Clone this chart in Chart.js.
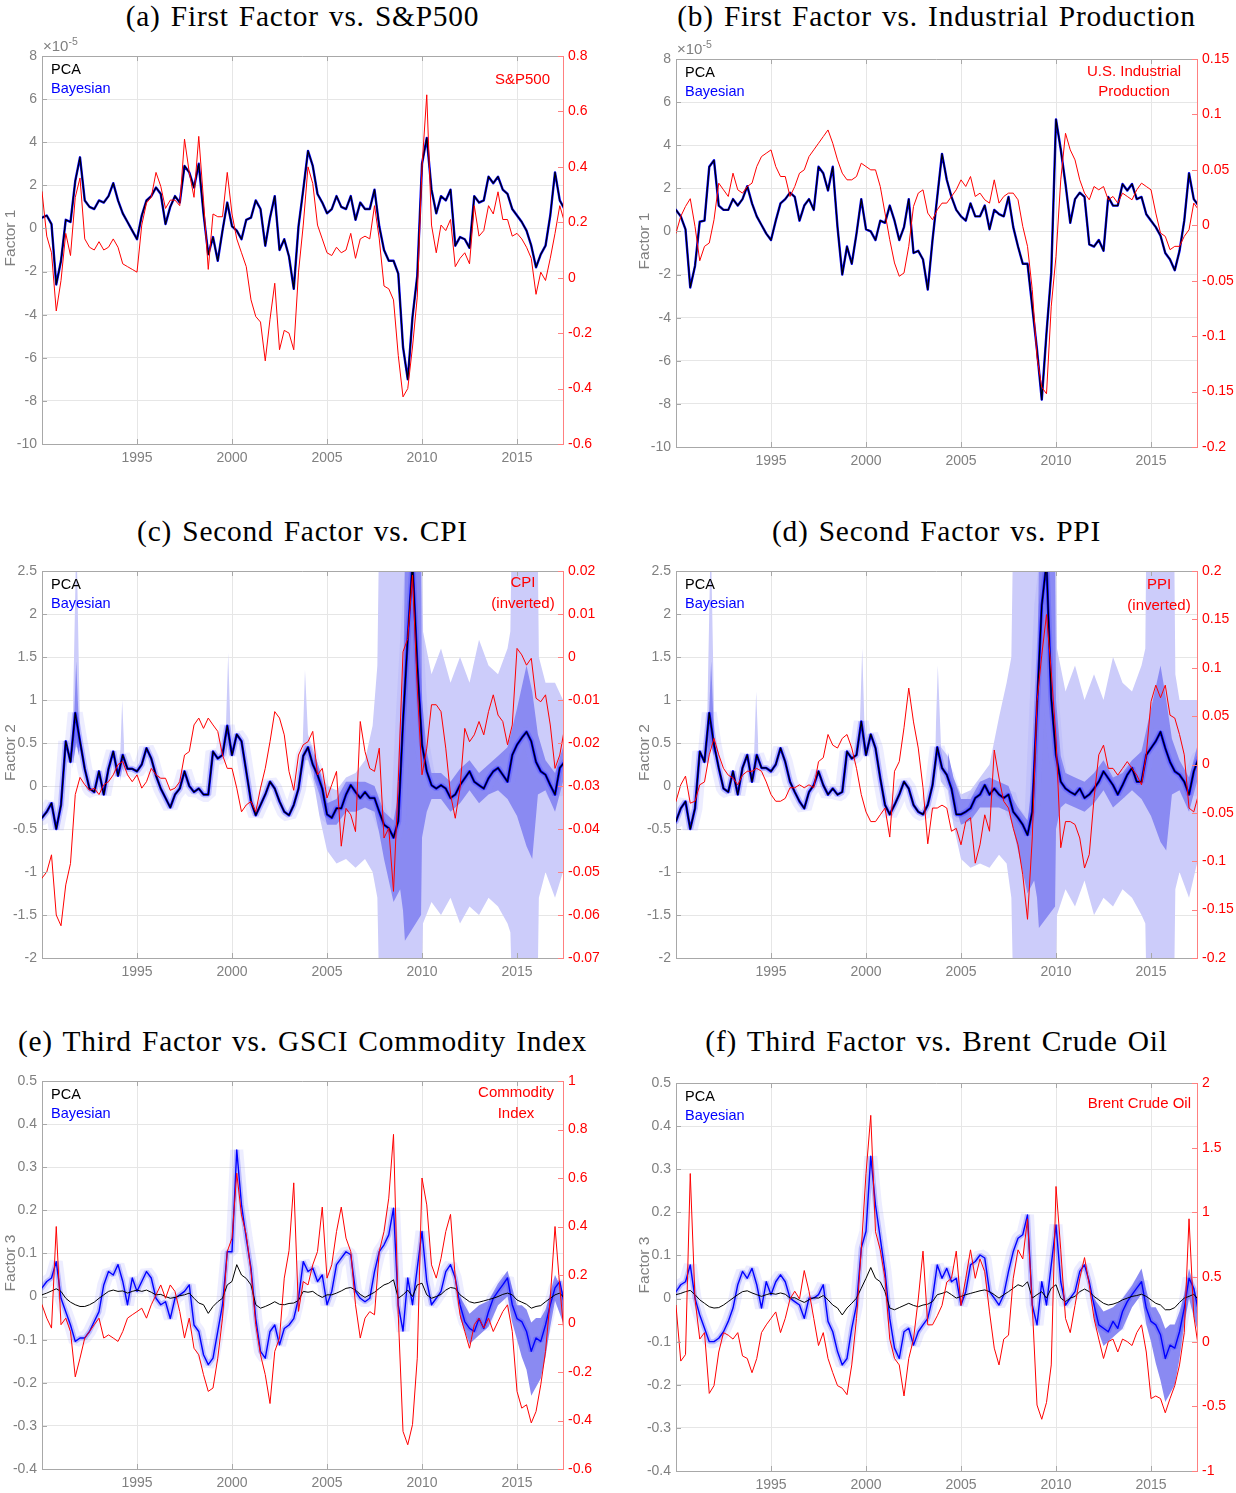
<!DOCTYPE html>
<html>
<head>
<meta charset="utf-8">
<script src="https://cdn.jsdelivr.net/npm/chart.js@4.4.0/dist/chart.umd.min.js"></script>
<style>
  html, body { margin: 0; padding: 0; background: #fff; }
  body { width: 1236px; height: 1493px; position: relative; overflow: hidden; }
  canvas { position: absolute; }
  .ttl { position: absolute; width: 700px; text-align: center; white-space: nowrap;
         font-family: "Liberation Serif", "DejaVu Serif", serif; font-size: 29.4px;
         letter-spacing: 0.8px; word-spacing: 2px; line-height: 32px; color: #000; }
</style>
</head>
<body>
<script>
// ---------- time grid (quarterly) ----------
const quarters = [
  1990,1990.25,1990.5,1990.75, 1991,1991.25,1991.5,1991.75, 1992,1992.25,1992.5,1992.75,
  1993,1993.25,1993.5,1993.75, 1994,1994.25,1994.5,1994.75, 1995,1995.25,1995.5,1995.75,
  1996,1996.25,1996.5,1996.75, 1997,1997.25,1997.5,1997.75, 1998,1998.25,1998.5,1998.75,
  1999,1999.25,1999.5,1999.75, 2000,2000.25,2000.5,2000.75, 2001,2001.25,2001.5,2001.75,
  2002,2002.25,2002.5,2002.75, 2003,2003.25,2003.5,2003.75, 2004,2004.25,2004.5,2004.75,
  2005,2005.25,2005.5,2005.75, 2006,2006.25,2006.5,2006.75, 2007,2007.25,2007.5,2007.75,
  2008,2008.25,2008.5,2008.75, 2009,2009.25,2009.5,2009.75, 2010,2010.25,2010.5,2010.75,
  2011,2011.25,2011.5,2011.75, 2012,2012.25,2012.5,2012.75, 2013,2013.25,2013.5,2013.75,
  2014,2014.25,2014.5,2014.75, 2015,2015.25,2015.5,2015.75, 2016,2016.25,2016.5,2016.75,
  2017,2017.25,2017.5
];

// ---------- tick labels ----------
const yearTicks  = [1995, 2000, 2005, 2010, 2015];
const f1Ticks    = [-10, -8, -6, -4, -2, 0, 2, 4, 6, 8];
const spxTicks   = [-0.6, -0.4, -0.2, 0, 0.2, 0.4, 0.6, 0.8];
const ipTicks    = [-0.2, -0.15, -0.1, -0.05, 0, 0.05, 0.1, 0.15];
const f2Ticks    = [-2, -1.5, -1, -0.5, 0, 0.5, 1, 1.5, 2, 2.5];
const cpiTicks   = [-0.07, -0.06, -0.05, -0.04, -0.03, -0.02, -0.01, 0, 0.01, 0.02];
const ppiTicks   = [-0.2, -0.15, -0.1, -0.05, 0, 0.05, 0.1, 0.15, 0.2];
const f3Ticks    = [-0.4, -0.3, -0.2, -0.1, 0, 0.1, 0.2, 0.3, 0.4, 0.5];
const gsciTicks  = [-0.6, -0.4, -0.2, 0, 0.2, 0.4, 0.6, 0.8, 1];
const brentTicks = [-1, -0.5, 0, 0.5, 1, 1.5, 2];

// ---------- (a) first factor (x1e-5) and S&P500 ----------
const pcaA = [
  0.5,0.6,0.2,-2.6, -1.5,0.4,0.3,2.2, 3.3,1.3,1.0,0.9, 1.3,1.2,1.5,2.1,
  1.3,0.7,0.3,-0.1, -0.5,0.6,1.3,1.5, 1.9,1.6,0.2,1.0, 1.5,1.2,2.9,2.6,
  1.9,3.0,0.7,-1.2, -0.4,-1.5,-0.1,1.2, 0.1,-0.1,-0.5,0.4, 0.5,1.3,0.9,-0.8,
  0.5,1.5,-1.0,-0.5, -1.3,-2.8,0.1,1.8, 3.6,2.9,1.6,1.2, 0.7,0.9,1.5,1.0,
  0.9,1.5,0.4,1.2, 0.9,0.9,1.8,0.1, -1.0,-1.5,-1.5,-2.1, -5.5,-7.0,-4.1,-2.2,
  3.0,4.2,1.8,0.7, 1.5,1.3,1.8,-0.8, -0.4,-0.5,-0.9,1.5, 1.2,1.3,2.4,2.1,
  2.4,1.8,1.6,0.9, 0.6,0.3,-0.1,-0.8, -1.8,-1.2,-0.8,0.6, 2.6,1.3,0.9
];
const spxA = [
  0.31,0.15,0.09,-0.12, -0.01,0.16,0.08,0.29, 0.36,0.14,0.11,0.10, 0.13,0.10,0.11,0.14,
  0.11,0.05,0.04,0.03, 0.02,0.19,0.27,0.29, 0.38,0.33,0.25,0.28, 0.28,0.26,0.50,0.38,
  0.29,0.51,0.28,0.03, 0.23,0.22,0.22,0.38, 0.23,0.14,0.09,0.04, -0.08,-0.14,-0.16,-0.30,
  -0.15,-0.02,-0.26,-0.19, -0.20,-0.26,0.02,0.19, 0.40,0.34,0.19,0.14, 0.09,0.08,0.11,0.09,
  0.10,0.16,0.07,0.14, 0.15,0.14,0.26,0.14, -0.03,-0.04,-0.08,-0.28, -0.43,-0.40,-0.25,-0.07,
  0.40,0.66,0.19,0.09, 0.19,0.17,0.21,0.04, 0.07,0.09,0.05,0.26, 0.15,0.17,0.26,0.23,
  0.31,0.21,0.21,0.15, 0.16,0.14,0.11,0.07, -0.06,0.02,-0.01,0.07, 0.16,0.26,0.20
];

// ---------- (b) first factor (x1e-5) and industrial production ----------
const pcaB = [
  1.0,0.7,0.1,-2.6, -1.6,0.45,0.5,3.0, 3.3,1.2,1.0,1.0, 1.5,1.2,1.5,2.1,
  1.3,0.7,0.3,-0.1, -0.4,0.5,1.3,1.5, 1.8,1.6,0.5,1.2, 1.5,1.0,3.0,2.7,
  1.9,3.0,0.2,-2.0, -0.7,-1.5,-0.1,1.5, 0.1,0.0,-0.4,0.5, 0.4,1.2,0.5,-0.4,
  0.2,1.5,-1.0,-0.9, -1.3,-2.7,-0.4,1.6, 3.6,2.4,1.6,1.0, 0.7,0.5,1.3,0.7,
  0.7,1.2,0.1,1.0, 0.8,0.7,1.6,0.2, -0.7,-1.5,-1.5,-3.5, -5.5,-7.8,-4.7,-1.9,
  5.2,3.8,2.2,0.4, 1.5,1.8,1.6,-0.6, -0.7,-0.4,-0.9,1.6, 1.2,1.2,2.2,1.9,
  2.2,1.5,1.6,0.8, 0.5,0.2,-0.2,-1.0, -1.3,-1.8,-0.9,0.5, 2.7,1.5,1.2
];
const ipB = [
  -0.007,0.008,0.017,0.024, -0.001,-0.032,-0.019,-0.016, 0.005,0.038,0.032,0.026, 0.047,0.032,0.029,0.035,
  0.038,0.053,0.062,0.065, 0.068,0.053,0.044,0.044, 0.026,0.035,0.047,0.050, 0.062,0.068,0.074,0.080,
  0.086,0.074,0.059,0.047, 0.041,0.041,0.044,0.056, 0.053,0.050,0.050,0.035, 0.011,-0.013,-0.034,-0.046,
  -0.043,-0.019,0.017,0.029, 0.032,0.011,0.005,0.014, 0.020,0.020,0.026,0.032, 0.041,0.035,0.044,0.026,
  0.029,0.023,0.020,0.041, 0.020,0.026,0.029,0.029, 0.023,-0.001,-0.019,-0.058, -0.119,-0.146,-0.152,-0.073,
  -0.028,0.041,0.083,0.068, 0.059,0.041,0.029,0.023, 0.035,0.032,0.035,0.023, 0.026,0.020,0.029,0.026,
  0.023,0.032,0.038,0.035, 0.032,0.011,-0.007,-0.010, -0.022,-0.019,-0.019,-0.010, -0.004,0.020,0.014
];

// ---------- (c) second factor and CPI (inverted) ----------
const pcaC = [
  -0.37,-0.30,-0.20,-0.50, -0.22,0.52,0.28,0.85, 0.52,0.20,-0.03,-0.07, 0.17,-0.10,0.20,0.40,
  0.12,0.36,0.20,0.20, 0.17,0.25,0.44,0.32, 0.12,-0.03,-0.14,-0.25, -0.10,-0.03,0.17,0.00,
  -0.07,-0.03,-0.10,-0.10, 0.40,0.32,0.36,0.70, 0.36,0.60,0.52,0.17, -0.18,-0.34,-0.22,-0.10,
  0.05,-0.03,-0.18,-0.30, -0.34,-0.22,-0.03,0.35, 0.45,0.25,0.13,-0.03, -0.33,-0.37,-0.26,-0.26,
  -0.10,0.01,-0.07,-0.14, -0.07,-0.14,-0.14,-0.30, -0.45,-0.49,-0.60,-0.41, 0.75,1.72,2.60,1.41,
  0.48,0.17,0.01,-0.03, 0.01,-0.03,-0.14,-0.10, 0.01,0.09,0.17,0.05, 0.01,-0.03,0.09,0.17,
  0.21,0.13,0.05,0.36, 0.48,0.56,0.63,0.52, 0.28,0.17,0.13,0.01, -0.10,0.21,0.28
];
const cpiC = [
  -0.0514,-0.0500,-0.0460,-0.0600, -0.0625,-0.0530,-0.0480,-0.0320, -0.0280,-0.0297,-0.0310,-0.0305, -0.0320,-0.0297,-0.0290,-0.0274,
  -0.0250,-0.0243,-0.0274,-0.0290, -0.0274,-0.0305,-0.0290,-0.0259, -0.0274,-0.0282,-0.0282,-0.0310, -0.0305,-0.0290,-0.0228,-0.0220,
  -0.0158,-0.0142,-0.0166,-0.0142, -0.0158,-0.0173,-0.0228,-0.0259, -0.0259,-0.0305,-0.0360,-0.0344, -0.0336,-0.0360,-0.0305,-0.0259,
  -0.0197,-0.0127,-0.0142,-0.0181, -0.0266,-0.0310,-0.0228,-0.0204, -0.0197,-0.0173,-0.0274,-0.0259, -0.0328,-0.0297,-0.0266,-0.0440,
  -0.0352,-0.0367,-0.0406,-0.0150, -0.0220,-0.0259,-0.0266,-0.0212, -0.0421,-0.0398,-0.0545,-0.0290, 0.0012,0.0043,0.0190,-0.0073,
  -0.0274,-0.0212,-0.0111,-0.0111, -0.0127,-0.0212,-0.0320,-0.0375, -0.0305,-0.0166,-0.0197,-0.0181, -0.0150,-0.0181,-0.0127,-0.0088,
  -0.0135,-0.0150,-0.0204,-0.0158, 0.0020,0.0005,-0.0019,-0.0003, -0.0096,-0.0104,-0.0088,-0.0158, -0.0259,-0.0228,-0.0166
];
const outerCT = [1991.6,1991.78,1991.84,1992.0,1992.01, 1994.1,1994.22,1994.34,1994.35, 1999.66,1999.8,1999.94,1999.95,
  2003.7,2003.84,2004.0,2004.3,2004.6,2005.0,2005.5,2006.0,2006.5,2007.0,2007.4,2007.65,2007.72,2010.0,2010.05,2010.5,
  2011.0,2011.5,2012.0,2012.5,2013.0,2013.5,2014.0,2014.5,2014.65,2014.7,2016.1,2016.15,2016.5,2017.0,2017.42];
const outerCHi = [0.5,2.6,2.6,0.65,null, 0.25,1.0,0.35,null, 0.55,1.55,0.5,null,
  0.35,1.35,0.6,0.40,0.20,0.00,-0.05,0.10,0.15,0.30,0.70,1.4,2.6,2.6,1.8,1.3,
  1.6,1.2,1.5,1.2,1.7,1.4,1.3,1.6,1.8,2.6,2.6,1.5,1.2,1.2,1.0];
const outerCLo = [0.2,0.45,0.45,0.4,null, 0.05,0.2,0.15,null, 0.3,0.5,0.3,null,
  0.15,0.3,0.3,0.05,-0.35,-0.75,-0.90,-0.85,-0.95,-0.85,-1.0,-1.3,-2.1,-2.1,-1.6,-1.35,
  -1.5,-1.3,-1.6,-1.4,-1.5,-1.3,-1.4,-1.6,-1.7,-2.1,-2.1,-1.3,-1.0,-1.3,-1.0];
const innerCT = [1991.65,1991.8,1991.95,1991.96,
  2004.3,2004.6,2005.0,2005.5,2006.0,2006.5,2007.0,2007.5,2007.75,2008.0,2008.5,2008.85,2009.0,2009.1,2009.95,
  2010.0,2010.25,2010.5,2011.0,2011.5,2012.0,2012.5,2013.0,2013.5,2014.0,2014.5,2015.0,2015.5,2015.8,2016.1,
  2016.5,2017.0,2017.42];
const innerCHi = [0.55,1.45,0.65,null,
  0.40,0.20,-0.20,-0.15,0.05,0.05,0.05,0.00,-0.15,-0.30,-0.40,0.00,1.0,2.6,2.6,
  1.0,0.40,0.15,0.15,0.05,0.20,0.30,0.15,0.25,0.35,0.45,0.90,1.40,1.10,0.60,
  0.30,0.15,0.45];
const innerCLo = [0.3,0.5,0.35,null,
  0.10,-0.10,-0.45,-0.45,-0.30,-0.30,-0.25,-0.30,-0.55,-0.85,-1.35,-1.2,-1.45,-1.8,-1.5,
  -0.6,-0.30,-0.15,-0.15,-0.30,-0.20,-0.05,-0.20,-0.10,-0.05,-0.15,-0.35,-0.70,-0.85,-0.10,
  -0.05,-0.30,0.05];

// ---------- (d) second factor and PPI (inverted) ----------
const pcaD = [
  -0.41,-0.26,-0.18,-0.50, -0.26,0.40,0.28,0.85, 0.48,0.21,-0.03,-0.07, 0.17,-0.10,0.21,0.36,
  0.05,0.36,0.21,0.21, 0.17,0.25,0.44,0.28, 0.05,-0.07,-0.18,-0.26, -0.07,0.01,0.17,0.01,
  -0.10,-0.03,-0.10,-0.07, 0.40,0.32,0.36,0.75, 0.36,0.60,0.44,0.09, -0.22,-0.33,-0.22,-0.10,
  0.05,-0.03,-0.22,-0.30, -0.33,-0.22,0.01,0.45, 0.21,0.13,-0.03,-0.33, -0.33,-0.30,-0.26,-0.14,
  -0.10,0.01,-0.10,-0.03, -0.10,-0.14,-0.10,-0.30, -0.37,-0.45,-0.57,-0.30, 0.94,2.10,2.60,1.02,
  0.36,0.05,-0.03,-0.07, -0.10,-0.03,-0.14,-0.10, -0.03,0.05,0.17,0.09, 0.01,-0.10,0.01,0.13,
  0.21,0.05,0.05,0.36, 0.44,0.52,0.63,0.44, 0.28,0.17,0.13,0.05, -0.10,0.17,0.32
];
const ppiD = [
  -0.038,-0.021,-0.012,-0.040, -0.038,-0.021,-0.018,0.010, 0.027,0.010,-0.004,-0.011, -0.014,-0.021,-0.011,-0.007,
  -0.007,-0.004,-0.007,-0.018, -0.031,-0.038,-0.038,-0.035, -0.024,-0.024,-0.021,-0.024, -0.021,-0.024,0.003,0.007,
  0.031,0.020,0.017,0.027, 0.031,0.017,-0.004,-0.031, -0.049,-0.059,-0.059,-0.052, -0.045,-0.075,-0.007,0.003,
  0.038,0.079,0.044,0.017, -0.024,-0.082,-0.045,-0.045, -0.042,-0.045,-0.069,-0.066, -0.083,-0.059,-0.055,-0.102,
  -0.083,-0.052,-0.069,0.015, -0.014,-0.038,-0.045,-0.066, -0.083,-0.114,-0.160,-0.076, 0.065,0.113,0.155,0.096,
  0.027,-0.086,-0.059,-0.059, -0.062,-0.076,-0.107,-0.093, -0.035,0.010,0.020,-0.004, -0.004,-0.011,-0.004,0.003,
  -0.004,-0.011,-0.021,0.010, 0.065,0.082,0.069,0.082, 0.051,0.048,0.031,0.010, -0.045,-0.049,-0.031
];
const outerDT = [1991.62,1991.8,1991.86,1992.02,1992.03, 1994.1,1994.22,1994.34,1994.35, 1999.66,1999.8,1999.94,1999.95,
  2003.65,2003.78,2003.95,2004.3,2004.6,2005.0,2005.5,2006.0,2006.5,2007.0,2007.4,2007.65,2007.72,2010.0,2010.05,2010.5,
  2011.0,2011.5,2012.0,2012.5,2013.0,2013.5,2014.0,2014.5,2014.7,2014.74,2016.23,2016.28,2016.5,2017.0,2017.42];
const outerDHi = [0.5,2.6,2.6,0.65,null, 0.3,1.1,0.4,null, 0.6,1.6,0.55,null,
  0.5,1.4,0.45,0.35,0.10,-0.10,-0.05,0.10,0.25,0.80,1.20,1.50,2.6,2.6,1.6,1.1,
  1.4,1.0,1.3,1.0,1.5,1.2,1.1,1.4,1.6,2.6,2.6,1.3,1.0,1.0,1.0];
const outerDLo = [0.2,0.45,0.45,0.35,null, 0.05,0.2,0.15,null, 0.3,0.55,0.3,null,
  0.2,0.3,0.05,-0.05,-0.45,-0.85,-0.95,-0.90,-0.95,-0.80,-0.90,-1.30,-2.1,-2.1,-1.5,-1.2,
  -1.4,-1.1,-1.5,-1.3,-1.4,-1.2,-1.3,-1.5,-1.6,-2.1,-2.1,-1.2,-1.0,-1.3,-0.9];
const innerDT = [1991.7,1991.85,1992.0,1992.01,
  2004.3,2004.6,2005.0,2005.5,2006.0,2006.5,2007.0,2007.5,2007.75,2008.0,2008.5,2008.85,2009.0,2009.1,2009.95,
  2010.0,2010.25,2010.5,2011.0,2011.5,2012.0,2012.5,2013.0,2013.5,2014.0,2014.5,2015.0,2015.5,2015.8,2016.1,
  2016.5,2017.0,2017.42];
const innerDHi = [0.6,1.45,0.6,null,
  0.40,0.10,-0.15,-0.15,0.05,0.10,0.05,0.00,-0.15,-0.25,-0.40,0.20,1.0,2.6,2.6,
  1.0,0.35,0.15,0.10,0.05,0.15,0.30,0.10,0.15,0.30,0.40,0.90,1.40,1.00,0.55,
  0.30,0.10,0.45];
const innerDLo = [0.3,0.5,0.35,null,
  0.05,-0.15,-0.45,-0.40,-0.25,-0.25,-0.25,-0.30,-0.50,-0.75,-1.25,-1.10,-1.30,-1.65,-1.40,
  -0.5,-0.25,-0.20,-0.25,-0.30,-0.20,-0.05,-0.25,-0.15,-0.05,-0.15,-0.35,-0.65,-0.75,-0.10,
  -0.05,-0.30,0.05];

// ---------- (e) third factor and GSCI commodity index ----------
const pcaE = [
  0.004,0.008,0.013,0.018, 0.012,-0.004,-0.013,-0.019, -0.023,-0.023,-0.019,-0.013, -0.004,0.004,0.012,0.015,
  0.012,0.013,0.008,0.012, 0.015,0.012,0.015,0.010, 0.004,0.005,0.000,-0.004, -0.002,0.002,0.004,0.008,
  -0.004,-0.015,-0.019,-0.039, -0.023,-0.012,-0.004,0.027, 0.035,0.074,0.050,0.042, 0.027,-0.019,-0.027,-0.023,
  -0.018,-0.012,-0.018,-0.019, -0.016,-0.015,-0.009,0.012, 0.010,0.012,0.004,-0.002, 0.004,0.004,0.008,0.013,
  0.019,0.021,0.015,0.005, -0.002,0.004,0.010,0.019, 0.027,0.031,0.039,-0.004, 0.004,0.015,0.000,0.027,
  0.031,0.004,-0.004,0.000, 0.005,0.015,0.021,0.019, 0.004,-0.004,-0.012,-0.015, -0.013,-0.010,-0.007,-0.004,
  0.000,0.005,0.008,0.004, -0.008,-0.013,-0.018,-0.027, -0.023,-0.021,-0.012,-0.004, 0.004,0.008,-0.004
];
const bayesE = [
  0.020,0.035,0.043,0.081, -0.004,-0.035,-0.066,-0.104, -0.096,-0.096,-0.081,-0.058, -0.035,0.027,0.058,0.050,
  0.074,0.035,-0.019,0.043, 0.012,0.035,0.058,0.043, -0.004,-0.019,-0.012,-0.051, -0.004,0.004,0.012,0.027,
  -0.066,-0.081,-0.135,-0.158, -0.143,-0.081,-0.019,0.104, 0.104,0.340,0.213,0.135, 0.066,-0.051,-0.127,-0.143,
  -0.081,-0.066,-0.112,-0.074, -0.066,-0.051,-0.004,0.081, 0.058,0.066,0.035,0.050, -0.019,0.012,0.074,0.089,
  0.104,0.097,0.012,-0.004, -0.012,-0.004,0.058,0.104, 0.120,0.143,0.205,-0.020, -0.080,0.043,-0.019,0.066,
  0.151,0.035,-0.019,-0.004, 0.012,0.058,0.074,0.043, -0.019,-0.058,-0.074,-0.081, -0.051,-0.074,-0.035,-0.004,
  0.012,0.027,0.043,-0.019, -0.051,-0.058,-0.081,-0.127, -0.096,-0.104,-0.066,-0.019, 0.020,0.035,-0.019
];
const gsciE = [
  0.077,0.022,-0.019,0.400, -0.005,0.022,-0.033,-0.220, -0.143,-0.060,-0.033,-0.005, 0.022,-0.060,-0.047,-0.060,
  -0.074,-0.033,0.022,0.036, 0.049,0.063,0.022,0.077, 0.118,0.159,0.104,0.159, 0.132,0.049,-0.060,0.022,
  -0.102,-0.129,-0.211,-0.280, -0.266,-0.143,0.022,0.297, 0.352,0.620,0.448,0.366, 0.214,-0.005,-0.129,-0.211,
  -0.330,-0.115,-0.060,0.187, 0.300,0.580,0.050,0.173, 0.159,0.242,0.297,0.480, 0.187,0.242,0.379,0.480,
  0.352,0.297,0.077,-0.060, 0.022,0.049,0.036,0.297, 0.379,0.517,0.780,0.036, -0.445,-0.500,-0.417,-0.143,
  0.600,0.489,0.242,0.187, 0.269,0.379,0.450,0.187, 0.036,-0.033,-0.102,-0.005, 0.022,-0.019,0.022,-0.033,
  0.008,0.049,0.077,-0.033, -0.280,-0.349,-0.335,-0.410, -0.363,-0.253,-0.115,0.104, 0.400,0.150,-0.060
];
const bandET  = [2012.0,2012.5,2013.0,2013.5,2014.0,2014.5,2014.75,2015.0,2015.25,2015.5,2015.75,2016.0,2016.25,2016.5,2016.75,2017.0,2017.42];
const bandEHi = [0.00,-0.04,-0.02,-0.01,0.03,0.06,0.02,-0.02,-0.02,-0.03,-0.06,-0.05,-0.05,-0.03,0.01,0.05,0.01];
const bandELo = [-0.05,-0.11,-0.09,-0.07,-0.02,0.00,-0.06,-0.10,-0.14,-0.17,-0.23,-0.21,-0.19,-0.14,-0.07,-0.01,-0.06];

// ---------- (f) third factor and Brent crude oil ----------
const pcaF = [
  0.009,0.012,0.016,0.019, 0.009,-0.003,-0.011,-0.019, -0.022,-0.021,-0.015,-0.007, 0.001,0.009,0.016,0.018,
  0.013,0.009,0.005,0.009, 0.012,0.010,0.013,0.010, 0.001,0.002,-0.004,-0.009, -0.003,0.002,0.001,0.007,
  -0.003,-0.015,-0.022,-0.038, -0.022,-0.011,0.001,0.024, 0.047,0.072,0.047,0.039, 0.016,-0.022,-0.026,-0.021,
  -0.016,-0.011,-0.016,-0.019, -0.015,-0.013,-0.007,0.009, 0.012,0.016,0.009,0.001, 0.005,0.009,0.012,0.015,
  0.018,0.020,0.016,0.009, 0.001,0.009,0.016,0.024, 0.032,0.028,0.039,0.001, 0.009,0.016,0.001,0.024,
  0.032,0.001,-0.007,0.001, 0.005,0.016,0.022,0.016, 0.005,-0.003,-0.011,-0.015, -0.013,-0.009,-0.003,0.001,
  0.005,0.007,0.010,0.005, -0.003,-0.011,-0.015,-0.026, -0.026,-0.021,-0.009,0.001, 0.005,0.010,-0.003
];
const bayesF = [
  0.016,0.032,0.039,0.078, 0.001,-0.038,-0.069,-0.100, -0.100,-0.092,-0.077,-0.053, -0.022,0.032,0.063,0.047,
  0.070,0.032,-0.022,0.039, 0.009,0.039,0.055,0.039, 0.001,-0.007,-0.015,-0.046, 0.001,0.001,0.009,0.032,
  -0.053,-0.077,-0.123,-0.154, -0.139,-0.069,-0.015,0.117, 0.156,0.330,0.217,0.140, 0.063,-0.046,-0.115,-0.139,
  -0.077,-0.069,-0.108,-0.077, -0.061,-0.046,0.001,0.078, 0.047,0.070,0.039,0.047, -0.015,0.016,0.078,0.086,
  0.101,0.094,0.016,0.001, -0.015,0.009,0.063,0.109, 0.140,0.148,0.194,-0.015, -0.061,0.039,-0.015,0.078,
  0.171,0.039,-0.015,0.001, 0.016,0.063,0.078,0.039, -0.015,-0.061,-0.069,-0.077, -0.053,-0.069,-0.030,-0.007,
  0.009,0.024,0.039,-0.022, -0.053,-0.061,-0.084,-0.139, -0.108,-0.115,-0.077,-0.022, 0.047,0.024,-0.030
];
const brentF = [
  0.28,-0.15,-0.10,1.30, 0.33,0.02,0.07,-0.40, -0.34,-0.08,0.07,0.05, 0.02,0.07,-0.11,-0.13,
  -0.24,-0.13,0.07,0.13, 0.18,0.23,0.07,0.18, 0.33,0.39,0.33,0.55, 0.39,0.18,-0.03,0.07,
  -0.13,-0.24,-0.34,-0.36, -0.41,-0.18,0.18,0.71, 1.30,1.75,0.85,0.71, 0.49,0.02,-0.13,-0.18,
  -0.42,-0.13,0.02,0.33, 0.70,0.13,0.13,0.20, 0.28,0.46,0.49,0.70, 0.28,0.49,0.71,0.49,
  0.64,0.54,0.23,-0.05, -0.18,0.02,0.05,0.49, 0.71,0.64,0.95,0.28, -0.49,-0.60,-0.47,-0.18,
  1.20,0.71,0.18,0.07, 0.28,0.49,0.65,0.44, 0.18,0.02,-0.13,0.00, 0.02,-0.08,0.02,0.00,
  -0.03,0.07,0.13,-0.08, -0.44,-0.42,-0.44,-0.55, -0.44,-0.34,-0.18,0.07, 0.95,0.20,-0.05
];
const bandFT  = [2012.0,2012.5,2013.0,2013.5,2014.0,2014.5,2014.75,2015.0,2015.25,2015.5,2015.75,2016.0,2016.25,2016.5,2016.75,2017.0,2017.42];
const bandFHi = [0.00,-0.03,-0.02,0.00,0.03,0.07,0.02,-0.02,-0.02,-0.04,-0.07,-0.06,-0.06,-0.03,0.01,0.07,0.00];
const bandFLo = [-0.05,-0.11,-0.09,-0.07,-0.02,0.01,-0.06,-0.10,-0.15,-0.19,-0.24,-0.22,-0.20,-0.14,-0.06,0.00,-0.07];

// ---------- styling ----------
const FONT = '"Liberation Sans", Arial, sans-serif';
const GRID = '#e6e6e6';
const AXIS = '#a8a8a8';
const TICKTXT = '#808080';
const RED = '#ff0000';
const REDAX = '#ff8080';
const BLUE = '#0000ff';
const OUTER = 'rgb(204,204,250)';
const INNER = 'rgb(138,138,242)';
const HAZE_MID = 'rgba(70,70,255,0.30)';
const HAZE_WIDE = 'rgba(140,140,255,0.16)';
const X_MIN = 1990, X_MAX = 2017.42;

const fmt = v => String(Math.round(v * 1e6) / 1e6);
const pts = (xs, ys) => xs.map((x, i) => ({ x: x, y: ys[i] }));

function line(xs, ys, color, width, order, axis, join) {
  return { data: pts(xs, ys), borderColor: color, borderWidth: width, order: order,
           yAxisID: axis || 'y', fill: false, pointRadius: 0, clip: 0, spanGaps: false,
           borderJoinStyle: join || 'round' };
}
function band(xs, hi, lo, color, order) {
  return [
    { data: pts(xs, hi), borderColor: 'rgba(0,0,0,0)', borderWidth: 0, backgroundColor: color,
      fill: '+1', order: order, yAxisID: 'y', pointRadius: 0, clip: 0, spanGaps: false },
    { data: pts(xs, lo), borderColor: 'rgba(0,0,0,0)', borderWidth: 0, fill: false,
      order: order, yAxisID: 'y', pointRadius: 0, clip: 0, spanGaps: false }
  ];
}

// labels, ticks and box drawn over each panel
const decor = {
  id: 'decor',
  afterDraw(chart, args, o) {
    const { ctx, chartArea: a, scales } = chart;
    ctx.save();
    ctx.lineWidth = 1;
    ctx.strokeStyle = AXIS;
    ctx.beginPath();
    ctx.moveTo(a.left, Math.round(a.top) + 0.5); ctx.lineTo(a.right, Math.round(a.top) + 0.5);
    yearTicks.forEach(v => {
      const px = Math.round(scales.x.getPixelForValue(v)) + 0.5;
      ctx.moveTo(px, a.bottom); ctx.lineTo(px, a.bottom - 5);
      ctx.moveTo(px, a.top); ctx.lineTo(px, a.top + 5);
    });
    o.yTicks.forEach(v => {
      const py = Math.round(scales.y.getPixelForValue(v)) + 0.5;
      ctx.moveTo(a.left, py); ctx.lineTo(a.left + 5, py);
    });
    ctx.stroke();
    ctx.strokeStyle = REDAX;
    ctx.beginPath();
    o.y2Ticks.forEach(v => {
      const py = Math.round(scales.y2.getPixelForValue(v)) + 0.5;
      ctx.moveTo(a.right, py); ctx.lineTo(a.right - 5, py);
    });
    ctx.stroke();

    ctx.textBaseline = 'middle';
    ctx.textAlign = 'left';
    ctx.font = '14.5px ' + FONT;
    ctx.fillStyle = '#000';
    ctx.fillText('PCA', a.left + 9, a.top + 14);
    ctx.fillStyle = BLUE;
    ctx.fillText('Bayesian', a.left + 9, a.top + 33);

    ctx.fillStyle = RED;
    ctx.font = '15px ' + FONT;
    ctx.textAlign = o.red.align;
    o.red.lines.forEach((s, i) => ctx.fillText(s, a.right + o.red.dx, a.top + o.red.dy[i]));

    ctx.save();
    ctx.translate(a.left - 31, (a.top + a.bottom) / 2 - 12);
    ctx.rotate(-Math.PI / 2);
    ctx.textAlign = 'center';
    ctx.fillStyle = TICKTXT;
    ctx.font = '15.5px ' + FONT;
    ctx.fillText(o.yTitle, 0, 0);
    ctx.restore();

    if (o.exp) {
      ctx.fillStyle = TICKTXT;
      ctx.textAlign = 'left';
      ctx.font = '15px ' + FONT;
      ctx.fillText('\u00d710', a.left + 1, a.top - 9);
      const w = ctx.measureText('\u00d710').width;
      ctx.font = '10.5px ' + FONT;
      ctx.fillText('-5', a.left + 1 + w, a.top - 14);
    }
    ctx.restore();
  }
};

function makePanel(p) {
  const left = p.col === 0 ? 0 : 618;
  const areaL = p.col === 0 ? 42 : 676;
  const areaR = p.col === 0 ? 563 : 1197;
  const cTop = p.top - 22;
  const cBottom = Math.min(p.bottom + 30, 1493);
  const W = 618, H = cBottom - cTop;
  const yW = areaL - left, y2W = left + W - areaR, xH = cBottom - p.bottom;

  const t = document.createElement('div');
  t.className = 'ttl';
  t.textContent = p.title;
  t.style.left = ((areaL + areaR) / 2 - 350) + 'px';
  t.style.top = (p.titleY - 16) + 'px';
  document.body.appendChild(t);

  const cv = document.createElement('canvas');
  cv.width = W; cv.height = H;
  cv.style.left = left + 'px'; cv.style.top = cTop + 'px';
  cv.style.width = W + 'px'; cv.style.height = H + 'px';
  document.body.appendChild(cv);

  const tickFont = { family: FONT, size: 14 };
  new Chart(cv.getContext('2d'), {
    type: 'line',
    data: { datasets: p.datasets },
    options: {
      responsive: false, animation: false, devicePixelRatio: 1, events: [],
      layout: { padding: { top: p.top - cTop, left: 0, right: 0, bottom: 0 } },
      elements: { point: { radius: 0 }, line: { tension: 0, borderCapStyle: 'round' } },
      plugins: {
        legend: { display: false }, tooltip: { enabled: false },
        decor: { yTicks: p.yTicks, y2Ticks: p.y2Ticks, red: p.red, yTitle: p.yTitle, exp: p.exp }
      },
      scales: {
        x: {
          type: 'linear', min: X_MIN, max: X_MAX,
          afterBuildTicks: s => { s.ticks = yearTicks.map(v => ({ value: v })); },
          afterFit: s => { s.height = xH; },
          ticks: { callback: v => String(v), color: TICKTXT, font: tickFont, padding: 6, maxRotation: 0, autoSkip: false },
          grid: { color: GRID, drawTicks: false },
          border: { color: AXIS }
        },
        y: {
          type: 'linear', position: 'left', min: p.yTicks[0], max: p.yTicks[p.yTicks.length - 1],
          afterBuildTicks: s => { s.ticks = p.yTicks.map(v => ({ value: v })); },
          afterFit: s => { s.width = yW; },
          ticks: { callback: fmt, color: TICKTXT, font: tickFont, padding: 5, autoSkip: false },
          grid: { color: GRID, drawTicks: false },
          border: { color: AXIS }
        },
        y2: {
          type: 'linear', position: 'right', min: p.y2Ticks[0], max: p.y2Ticks[p.y2Ticks.length - 1],
          afterBuildTicks: s => { s.ticks = p.y2Ticks.map(v => ({ value: v })); },
          afterFit: s => { s.width = y2W; },
          ticks: { callback: fmt, color: RED, font: tickFont, padding: 5, autoSkip: false },
          grid: { display: false, drawTicks: false },
          border: { color: REDAX }
        }
      }
    },
    plugins: [decor]
  });
}

Chart.defaults.font.family = FONT;

makePanel({
  col: 0, top: 56, bottom: 444, titleY: 16, title: '(a) First Factor vs. S&P500',
  yTitle: 'Factor 1', exp: true, yTicks: f1Ticks, y2Ticks: spxTicks,
  red: { lines: ['S&P500'], align: 'right', dx: -13, dy: [24] },
  datasets: [
    line(quarters, spxA, RED, 1, 0, 'y2'),
    line(quarters, pcaA, '#000', 1.2, 1),
    line(quarters, pcaA, BLUE, 2.4, 2)
  ]
});
makePanel({
  col: 1, top: 59, bottom: 447, titleY: 16, title: '(b) First Factor vs. Industrial Production',
  yTitle: 'Factor 1', exp: true, yTicks: f1Ticks, y2Ticks: ipTicks,
  red: { lines: ['U.S. Industrial', 'Production'], align: 'center', dx: -63, dy: [13, 33] },
  datasets: [
    line(quarters, ipB, RED, 1, 0, 'y2'),
    line(quarters, pcaB, '#000', 1.2, 1),
    line(quarters, pcaB, BLUE, 2.4, 2)
  ]
});
makePanel({
  col: 0, top: 571, bottom: 958, titleY: 531, title: '(c) Second Factor vs. CPI',
  yTitle: 'Factor 2', exp: false, yTicks: f2Ticks, y2Ticks: cpiTicks,
  red: { lines: ['CPI', '(inverted)'], align: 'center', dx: -40, dy: [12, 33] },
  datasets: [
    line(quarters, cpiC, RED, 1, 0, 'y2'),
    line(quarters, pcaC, '#000', 1.2, 1),
    line(quarters, pcaC, BLUE, 2.5, 2),
    line(quarters, pcaC, HAZE_MID, 6, 3, 'y', 'bevel'),
    line(quarters, pcaC, HAZE_WIDE, 15, 4, 'y', 'bevel'),
    ...band(innerCT, innerCHi, innerCLo, INNER, 5),
    ...band(outerCT, outerCHi, outerCLo, OUTER, 6)
  ]
});
makePanel({
  col: 1, top: 571, bottom: 958, titleY: 531, title: '(d) Second Factor vs. PPI',
  yTitle: 'Factor 2', exp: false, yTicks: f2Ticks, y2Ticks: ppiTicks,
  red: { lines: ['PPI', '(inverted)'], align: 'center', dx: -38, dy: [14, 35] },
  datasets: [
    line(quarters, ppiD, RED, 1, 0, 'y2'),
    line(quarters, pcaD, '#000', 1.2, 1),
    line(quarters, pcaD, BLUE, 2.5, 2),
    line(quarters, pcaD, HAZE_MID, 6, 3, 'y', 'bevel'),
    line(quarters, pcaD, HAZE_WIDE, 15, 4, 'y', 'bevel'),
    ...band(innerDT, innerDHi, innerDLo, INNER, 5),
    ...band(outerDT, outerDHi, outerDLo, OUTER, 6)
  ]
});
makePanel({
  col: 0, top: 1081, bottom: 1469, titleY: 1041, title: '(e) Third Factor vs. GSCI Commodity Index',
  yTitle: 'Factor 3', exp: false, yTicks: f3Ticks, y2Ticks: gsciTicks,
  red: { lines: ['Commodity', 'Index'], align: 'center', dx: -47, dy: [12, 33] },
  datasets: [
    line(quarters, gsciE, RED, 1, 0, 'y2'),
    line(quarters, pcaE, '#000', 1, 1),
    line(quarters, bayesE, BLUE, 1.4, 2),
    line(quarters, bayesE, HAZE_MID, 5, 3, 'y', 'bevel'),
    line(quarters, bayesE, HAZE_WIDE, 13, 4, 'y', 'bevel'),
    ...band(bandET, bandEHi, bandELo, INNER, 5)
  ]
});
makePanel({
  col: 1, top: 1083, bottom: 1471, titleY: 1041, title: '(f) Third Factor vs. Brent Crude Oil',
  yTitle: 'Factor 3', exp: false, yTicks: f3Ticks, y2Ticks: brentTicks,
  red: { lines: ['Brent Crude Oil'], align: 'right', dx: -6, dy: [21] },
  datasets: [
    line(quarters, brentF, RED, 1, 0, 'y2'),
    line(quarters, pcaF, '#000', 1, 1),
    line(quarters, bayesF, BLUE, 1.4, 2),
    line(quarters, bayesF, HAZE_MID, 5, 3, 'y', 'bevel'),
    line(quarters, bayesF, HAZE_WIDE, 13, 4, 'y', 'bevel'),
    ...band(bandFT, bandFHi, bandFLo, INNER, 5)
  ]
});
</script>
</body>
</html>
